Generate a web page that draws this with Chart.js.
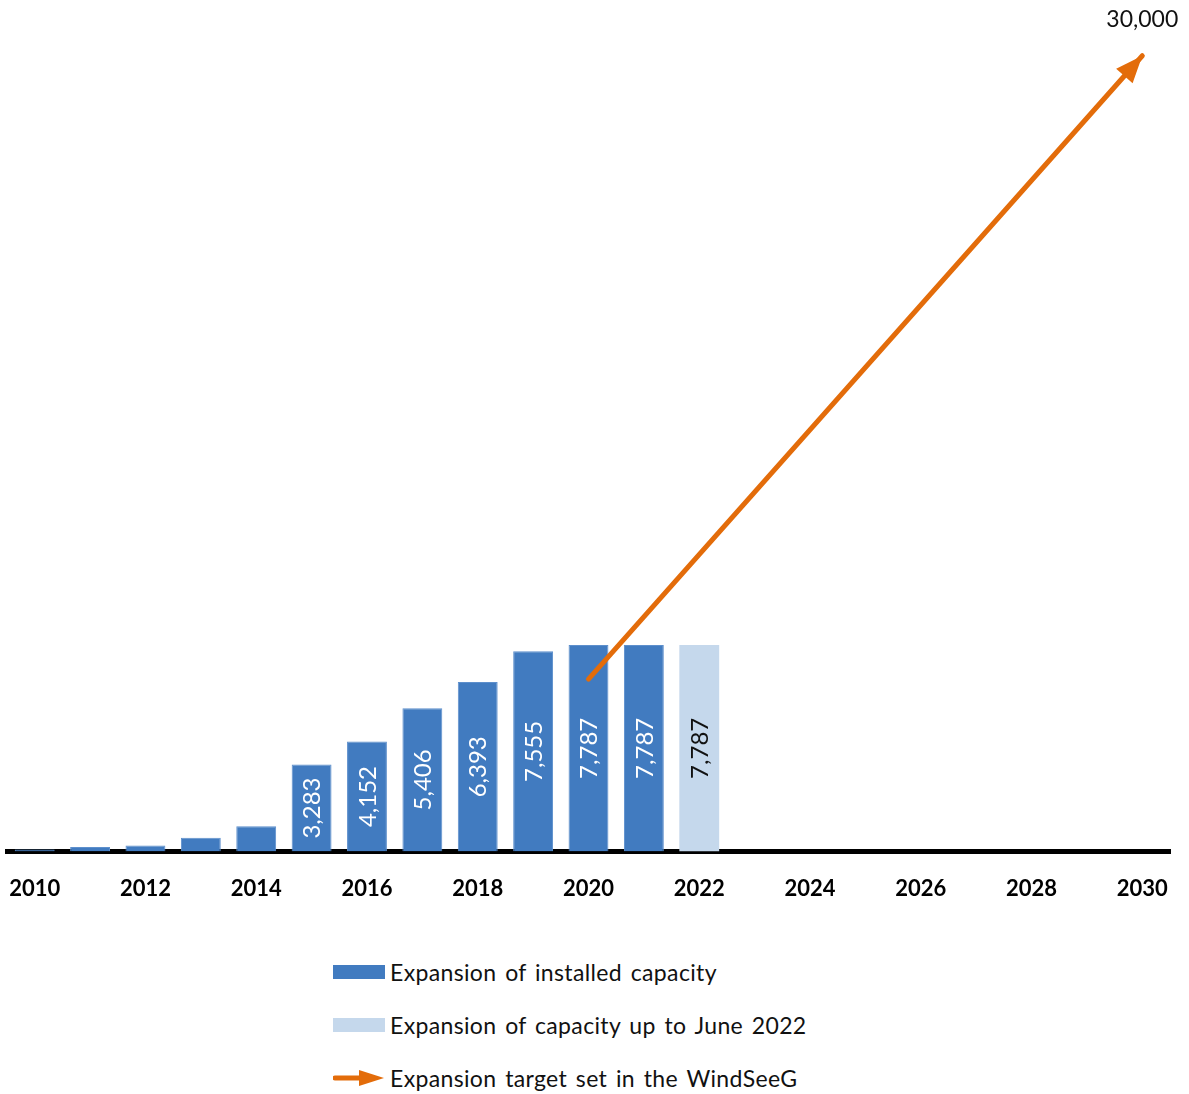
<!DOCTYPE html>
<html lang="en">
  <head>
    <meta charset="UTF-8" />
    <title>Offshore wind expansion</title>
    <script src="https://cdn.jsdelivr.net/npm/chart.js"></script>
    <style>
      body { margin: 0; background: #fff; font-family: Lato, "Noto Sans", sans-serif; }
      #wrap { position: relative; width: 1189px; height: 1094px; }
      #chartBox { position: absolute; left: 0; top: 0; width: 1189px; height: 926px; }
      .legend-row { position: absolute; left: 333px; height: 30px; display: flex; align-items: center; font-size: 23px; color: #111; letter-spacing: 0.35px; word-spacing: 2.5px; }
      .swatch { width: 52px; height: 14px; margin-right: 5px; }
      .legend-row svg { margin-right: 5px; }
    </style>
  </head>
  <body>
    <div id="wrap">
      <div id="chartBox"><canvas id="windChart"></canvas></div>
      <div class="legend-row" style="top: 957px"><div class="swatch" style="background: #417bc0"></div>Expansion of installed capacity</div>
      <div class="legend-row" style="top: 1010px"><div class="swatch" style="background: #c5d8ec"></div>Expansion of capacity up to June 2022</div>
      <div class="legend-row" style="top: 1063px">
        <svg width="52" height="20" viewBox="0 0 52 20">
          <line x1="2" y1="10" x2="30" y2="10" stroke="#e36c0a" stroke-width="5" stroke-linecap="round" />
          <polygon points="26,2 51,10 26,18" fill="#e36c0a" />
        </svg>Expansion target set in the WindSeeG
      </div>
    </div>

    <script>
      const years = ["2010", "2011", "2012", "2013", "2014", "2015", "2016", "2017", "2018", "2019", "2020",
        "2021", "2022", "2023", "2024", "2025", "2026", "2027", "2028", "2029", "2030"];
      // installed offshore capacity in MW
      const installed = [80, 170, 230, 520, 960, 3283, 4152, 5406, 6393, 7555, 7787, 7787];
      const installedJune2022 = [7787];
      const targetYears = ["2020", "2030"];
      const targetValues = [6500, 30000];

      const BLUE = "#417bc0";
      const LIGHT = "#c5d8ec";
      const ORANGE = "#e36c0a";

      const fmt = (v) => v.toLocaleString("en-US");

      const pad = (arr, start) => years.map((_, i) => (i >= start && i - start < arr.length ? arr[i - start] : null));

      // labels inside the bars + arrow head and target value
      const annotate = {
        id: "annotate",
        afterDatasetsDraw(chart) {
          const ctx = chart.ctx;
          ctx.save();
          [1, 2].forEach((di) => {
            const meta = chart.getDatasetMeta(di);
            meta.data.forEach((bar, i) => {
              const v = chart.data.datasets[di].data[i];
              if (v == null || v < 3000) return;
              ctx.save();
              ctx.translate(bar.x, (bar.y + bar.base) / 2);
              ctx.rotate(-Math.PI / 2);
              ctx.font = "24px Lato";
              ctx.fillStyle = di === 1 ? "#ffffff" : "#111111";
              ctx.textAlign = "center";
              ctx.textBaseline = "middle";
              ctx.fillText(fmt(v), 0, 1);
              ctx.restore();
            });
          });

          const pts = chart.getDatasetMeta(0).data;
          const a = pts[0], b = pts[pts.length - 1];
          const ang = Math.atan2(b.y - a.y, b.x - a.x);
          const len = 27, half = 11;
          const tipX = b.x, tipY = b.y;
          const bx = tipX - len * Math.cos(ang), by = tipY - len * Math.sin(ang);
          ctx.fillStyle = ORANGE;
          ctx.beginPath();
          ctx.moveTo(tipX, tipY);
          ctx.lineTo(bx + half * Math.sin(ang), by - half * Math.cos(ang));
          ctx.lineTo(bx - half * Math.sin(ang), by + half * Math.cos(ang));
          ctx.closePath();
          ctx.fill();

          ctx.font = "23px Lato";
          ctx.fillStyle = "#111";
          ctx.textAlign = "center";
          ctx.textBaseline = "middle";
          ctx.fillText(fmt(targetValues[targetValues.length - 1]), tipX, tipY - 36);
          ctx.restore();
        },
      };

      new Chart(document.getElementById("windChart"), {
        data: {
          labels: years,
          datasets: [
            {
              type: "line",
              label: "Expansion target set in the WindSeeG",
              data: targetYears.map((x, i) => ({ x, y: targetValues[i] })),
              borderColor: ORANGE,
              borderWidth: 5,
              borderCapStyle: "round",
              pointRadius: 0,
              fill: false,
              order: 0,
            },
            {
              type: "bar",
              label: "Expansion of installed capacity",
              data: pad(installed, 0),
              backgroundColor: BLUE,
              borderColor: "#5d8fcc",
              borderWidth: 1,
              grouped: false,
              barPercentage: 0.9,
              categoryPercentage: 0.8,
              order: 1,
            },
            {
              type: "bar",
              label: "Expansion of capacity up to June 2022",
              data: pad(installedJune2022, 12),
              backgroundColor: LIGHT,
              borderWidth: 0,
              grouped: false,
              barPercentage: 0.9,
              categoryPercentage: 0.8,
              order: 1,
            },
          ],
        },
        options: {
          responsive: true,
          maintainAspectRatio: false,
          animation: false,
          layout: { padding: { top: 8, left: 7, right: 19, bottom: 0 } },
          plugins: { legend: { display: false }, tooltip: { enabled: false } },
          scales: {
            x: {
              grid: { display: false, drawTicks: false },
              border: { color: "#000", width: 5 },
              ticks: {
                autoSkip: false,
                maxRotation: 0,
                padding: 24,
                color: "#000",
                font: { family: "Lato", size: 22, weight: "bold" },
                callback(val, i) {
                  return i % 2 === 0 ? years[i] : "";
                },
              },
              afterFit(scale) {
                scale.paddingLeft = 0;
                scale.paddingRight = 0;
              },
            },
            y: { display: false, min: 0, max: 31800 },
          },
        },
        plugins: [annotate],
      });
    </script>
  </body>
</html>
